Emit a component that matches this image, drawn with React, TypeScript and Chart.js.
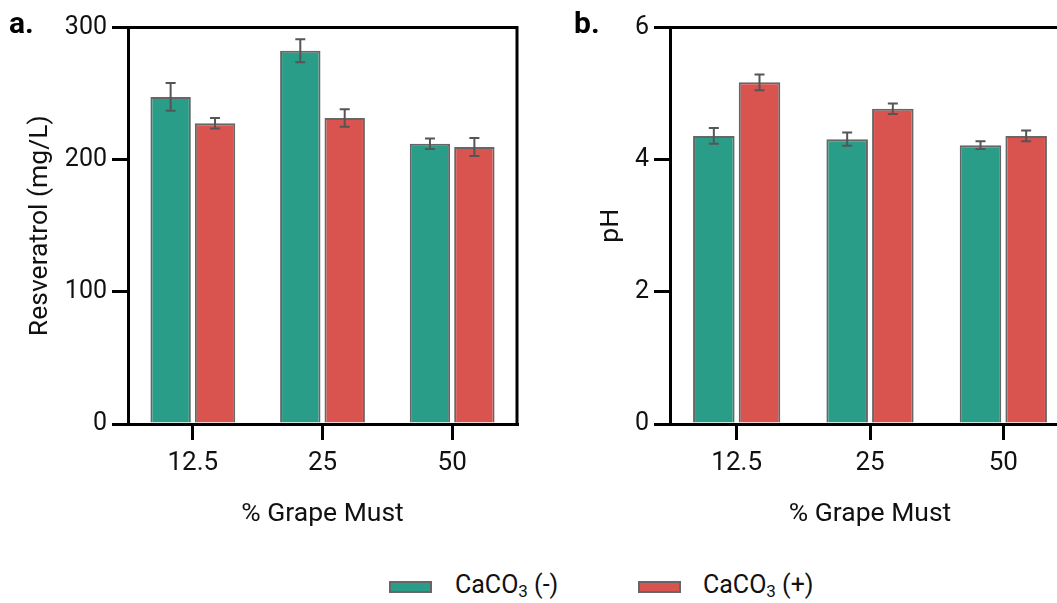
import React, { useEffect, useRef } from "react";
import { Chart, registerables } from "chart.js";
Chart.register(...registerables);

const categories = ["12.5", "25", "50"];
const seriesLabels = ["CaCO₃ (-)", "CaCO₃ (+)"];

const resveratrolMinus = [247.5, 282.5, 212];
const resveratrolMinusErr = [10.5, 8.7, 4];
const resveratrolPlus = [227.5, 231.5, 209.5];
const resveratrolPlusErr = [4, 6.6, 6.8];
const resveratrolTicks = [0, 100, 200, 300];

const phMinus = [4.36, 4.31, 4.22];
const phMinusErr = [0.12, 0.1, 0.06];
const phPlus = [5.17, 4.77, 4.36];
const phPlusErr = [0.12, 0.08, 0.08];
const phTicks = [0, 2, 4, 6];

const GREEN = "#2a9d88";
const RED = "#d9534f";
const BORDER = "#666666";
const ERR = "#555555";
const FONT = "Roboto";

type PanelCfg = {
  label: string;
  labelX: number;
  labelY: number;
  yTitle: string;
  yTitlePad: number;
  yWidth: number;
  ticks: number[];
  minus: number[];
  minusErr: number[];
  plus: number[];
  plusErr: number[];
  width: number;
  height: number;
  padRight: number;
};

function makeChart(canvas: HTMLCanvasElement, c: PanelCfg) {
  const errors = [c.minusErr, c.plusErr];
  const errorPlugin = {
    id: "errorBars",
    afterDatasetsDraw(chart: any) {
      const ctx = chart.ctx;
      const ys = chart.scales.y;
      ctx.save();
      ctx.strokeStyle = ERR;
      ctx.lineWidth = 2;
      chart.data.datasets.forEach((ds: any, i: number) => {
        const meta = chart.getDatasetMeta(i);
        meta.data.forEach((el: any, j: number) => {
          const v = ds.data[j];
          const e = errors[i][j];
          const x = el.x;
          const yt = ys.getPixelForValue(v + e);
          const yb = ys.getPixelForValue(v - e);
          ctx.beginPath();
          ctx.moveTo(x, yt);
          ctx.lineTo(x, yb);
          ctx.moveTo(x - 5, yt);
          ctx.lineTo(x + 5, yt);
          ctx.moveTo(x - 5, yb);
          ctx.lineTo(x + 5, yb);
          ctx.stroke();
        });
      });
      ctx.restore();
    },
  };
  const framePlugin = {
    id: "frame",
    afterDraw(chart: any) {
      const { ctx, chartArea: a } = chart;
      ctx.save();
      ctx.strokeStyle = "#000";
      ctx.lineWidth = 3;
      ctx.beginPath();
      ctx.moveTo(a.left - 1.5, a.top);
      ctx.lineTo(a.right, a.top);
      ctx.lineTo(a.right, a.bottom + 1.5);
      ctx.stroke();
      ctx.fillStyle = "#000";
      ctx.font = `bold 30px ${FONT}`;
      ctx.textBaseline = "alphabetic";
      ctx.textAlign = "left";
      ctx.fillText(c.label, c.labelX, c.labelY);
      ctx.restore();
    },
  };
  return new Chart(canvas, {
    type: "bar",
    data: {
      labels: categories,
      datasets: [
        {
          label: seriesLabels[0],
          data: c.minus,
          backgroundColor: GREEN,
          borderColor: BORDER,
          borderWidth: 2,
          categoryPercentage: 0.685,
          barPercentage: 0.91,
        },
        {
          label: seriesLabels[1],
          data: c.plus,
          backgroundColor: RED,
          borderColor: BORDER,
          borderWidth: 2,
          categoryPercentage: 0.685,
          barPercentage: 0.91,
        },
      ],
    },
    options: {
      responsive: false,
      animation: false,
      devicePixelRatio: 1,
      events: [],
      layout: { padding: { top: 27.5, right: c.padRight, bottom: 0, left: 0 } },
      plugins: { legend: { display: false }, tooltip: { enabled: false } },
      scales: {
        x: {
          z: 1,
          offset: true,
          grid: {
            display: true,
            offset: false,
            drawOnChartArea: false,
            drawTicks: true,
            tickLength: 16,
            tickWidth: 3,
            lineWidth: 3,
            color: "#000",
            tickColor: "#000",
          },
          border: { display: true, color: "#000", width: 3 },
          ticks: { color: "#111", font: { family: FONT, size: 26 }, padding: 8, maxRotation: 0 },
          title: {
            display: true,
            text: "% Grape Must",
            color: "#111",
            font: { family: FONT, size: 26.5 },
            padding: { top: 0, bottom: 30 },
          },
          afterFit: (s: any) => {
            s.height = c.height - 424;
          },
        },
        y: {
          z: 1,
          min: c.ticks[0],
          max: c.ticks[c.ticks.length - 1],
          afterBuildTicks: (s: any) => {
            s.ticks = c.ticks.map((v) => ({ value: v }));
          },
          grid: {
            display: true,
            drawOnChartArea: false,
            drawTicks: true,
            tickLength: 16,
            tickWidth: 3,
            lineWidth: 3,
            color: "#000",
            tickColor: "#000",
          },
          border: { display: true, color: "#000", width: 3 },
          ticks: { color: "#111", font: { family: FONT, size: 25 }, padding: 5 },
          title: {
            display: true,
            text: c.yTitle,
            color: "#111",
            font: { family: FONT, size: 26.5 },
            padding: { top: c.yTitlePad, bottom: 0 },
          },
          afterFit: (s: any) => {
            s.width = c.yWidth;
          },
        },
      },
    },
    plugins: [errorPlugin, framePlugin],
  } as any);
}

const panelA: PanelCfg = {
  label: "a.",
  labelX: 9,
  labelY: 33,
  yTitle: "Resveratrol (mg/L)",
  yTitlePad: 24,
  yWidth: 128,
  ticks: resveratrolTicks,
  minus: resveratrolMinus,
  minusErr: resveratrolMinusErr,
  plus: resveratrolPlus,
  plusErr: resveratrolPlusErr,
  width: 545,
  height: 560,
  padRight: 28,
};

const panelB: PanelCfg = {
  label: "b.",
  labelX: 14,
  labelY: 33,
  yTitle: "pH",
  yTitlePad: 35,
  yWidth: 110,
  ticks: phTicks,
  minus: phMinus,
  minusErr: phMinusErr,
  plus: phPlus,
  plusErr: phPlusErr,
  width: 530,
  height: 560,
  padRight: 20,
};

function LegendItem({ color, left, textLeft, sign }: { color: string; left: number; textLeft: number; sign: string }) {
  return (
    <>
      <div
        style={{
          position: "absolute",
          left,
          top: 580.5,
          width: 43,
          height: 12,
          boxSizing: "border-box",
          background: color,
          border: `2px solid ${BORDER}`,
        }}
      />
      <div
        style={{
          position: "absolute",
          left: textLeft,
          top: 572,
          fontFamily: FONT,
          fontSize: 25,
          lineHeight: "25px",
          color: "#111",
          whiteSpace: "nowrap",
        }}
      >
        CaCO<span style={{ fontSize: 17, position: "relative", top: 4 }}>3</span> ({sign})
      </div>
    </>
  );
}

export default function App() {
  const refA = useRef<HTMLCanvasElement>(null);
  const refB = useRef<HTMLCanvasElement>(null);
  useEffect(() => {
    const a = makeChart(refA.current!, panelA);
    const b = makeChart(refB.current!, panelB);
    return () => {
      a.destroy();
      b.destroy();
    };
  }, []);
  return (
    <div
      style={{
        position: "fixed",
        left: 0,
        top: 0,
        width: 1057,
        height: 603,
        overflow: "hidden",
        background: "#fff",
      }}
    >
      <canvas
        ref={refA}
        width={panelA.width}
        height={panelA.height}
        style={{ position: "absolute", left: 0, top: 0, width: panelA.width, height: panelA.height }}
      />
      <canvas
        ref={refB}
        width={panelB.width}
        height={panelB.height}
        style={{ position: "absolute", left: 560, top: 0, width: panelB.width, height: panelB.height }}
      />
      <LegendItem color={GREEN} left={389} textLeft={455} sign="-" />
      <LegendItem color={RED} left={638} textLeft={703} sign="+" />
    </div>
  );
}
